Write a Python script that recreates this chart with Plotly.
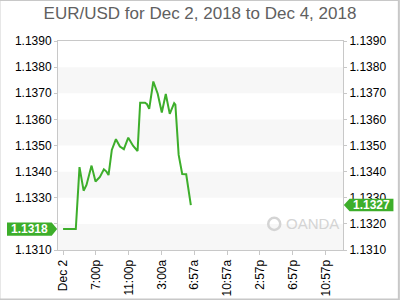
import plotly.graph_objects as go

# ---- data ----
times = [
    "2018-12-02 15:00", "2018-12-02 16:33", "2018-12-02 17:00", "2018-12-02 17:30",
    "2018-12-02 17:51", "2018-12-02 18:28", "2018-12-02 18:57", "2018-12-02 19:29",
    "2018-12-02 19:58", "2018-12-02 20:17", "2018-12-02 20:32", "2018-12-02 20:56",
    "2018-12-02 21:26", "2018-12-02 21:55", "2018-12-02 22:24", "2018-12-02 22:56",
    "2018-12-02 23:32", "2018-12-03 00:04", "2018-12-03 00:23", "2018-12-03 00:58",
    "2018-12-03 01:13", "2018-12-03 01:29", "2018-12-03 01:59", "2018-12-03 02:31",
    "2018-12-03 03:01", "2018-12-03 03:30", "2018-12-03 03:59", "2018-12-03 04:31",
    "2018-12-03 04:40", "2018-12-03 05:04", "2018-12-03 05:30", "2018-12-03 05:59",
    "2018-12-03 06:33",
]
rates = [
    1.1318, 1.1318, 1.13417, 1.13327,
    1.13349, 1.13423, 1.13362, 1.1338,
    1.13409, 1.1340, 1.13387, 1.13483,
    1.13524, 1.13496, 1.13486, 1.1353,
    1.13498, 1.13479, 1.13664, 1.13664,
    1.13658, 1.1364, 1.13745, 1.13698,
    1.13626, 1.13697, 1.13621, 1.13662,
    1.13656, 1.13464, 1.13391, 1.1339,
    1.13272,
]
tick_times = [
    "2018-12-02 15:00", "2018-12-02 19:00", "2018-12-02 23:00", "2018-12-03 03:00",
    "2018-12-03 06:57", "2018-12-03 10:57", "2018-12-03 14:57", "2018-12-03 18:57",
    "2018-12-03 22:57",
]
tick_labels = ["Dec 2", "7:00p", "11:00p", "3:00a", "6:57a", "10:57a", "2:57p", "6:57p", "10:57p"]
y_ticks = [1.131, 1.132, 1.133, 1.134, 1.135, 1.136, 1.137, 1.138, 1.139]
title_text = "EUR/USD for Dec 2, 2018 to Dec 4, 2018"

GREEN = "#3dae2b"
AXC = "#c8c8c8"
FONT = "Liberation Sans, Arial, sans-serif"

fig = go.Figure()
fig.add_trace(go.Scatter(x=times, y=rates, mode="lines",
                         line=dict(color=GREEN, width=2), hoverinfo="skip",
                         showlegend=False))
fig.add_trace(go.Scatter(x=times, y=rates, mode="lines", yaxis="y2",
                         line=dict(color="rgba(0,0,0,0)", width=0), hoverinfo="skip",
                         showlegend=False))

first, last = rates[0], rates[-1]
yr = [1.131, 1.139]

# left tick labels: hide the one covered by the current-open label box
left_text = [("" if abs(v - first) < 0.0004 else f"{v:.4f}") for v in y_ticks]
right_text = [f"{v:.4f}" for v in y_ticks]

shapes = []
# alternating bands
for lo in y_ticks[0:-1:2]:
    shapes.append(dict(type="rect", xref="paper", yref="y", x0=0, x1=1,
                       y0=lo, y1=lo + 0.001, fillcolor="#f7f7f7",
                       line=dict(width=0), layer="below"))

# price label boxes
def pent(v, x0, x1, tip, half=0.00025):
    return (f"M {x0},{v-half} L {x1},{v-half} L {tip},{v} "
            f"L {x1},{v+half} L {x0},{v+half} Z")

shapes.append(dict(type="path", xref="paper", yref="y",
                   path=pent(first, -0.179, -0.022, -0.003),
                   fillcolor=GREEN, line=dict(width=0), layer="above"))
shapes.append(dict(type="path", xref="paper", yref="y",
                   path=pent(last, 1.177, 1.023, 1.003, 0.00024),
                   fillcolor=GREEN, line=dict(width=0), layer="above"))
# outer border
shapes.append(dict(type="rect", xref="paper", yref="paper",
                   x0=-58.5 / 284.7, x1=340.5 / 284.7,
                   y0=-49.5 / 209, y1=1 + 41 / 209,
                   line=dict(color=AXC, width=2), fillcolor="rgba(0,0,0,0)"))
# watermark circle
shapes.append(dict(type="circle", xref="paper", yref="y",
                   x0=(268 - 58) / 284.7, x1=(280 - 58) / 284.7,
                   y0=1.13177, y1=1.13223,
                   line=dict(color="#d4d4d4", width=2.5), fillcolor="rgba(0,0,0,0)"))

annotations = [
    dict(text=f"<b>{first:.4f}</b>", xref="paper", yref="y", x=-0.1, y=first,
         showarrow=False, font=dict(family=FONT, size=12, color="white"),
         xanchor="center", yanchor="middle"),
    dict(text=f"<b>{last:.4f}</b>", xref="paper", yref="y", x=1.1, y=last,
         showarrow=False, font=dict(family=FONT, size=12, color="white"),
         xanchor="center", yanchor="middle"),
    dict(text="OANDA", xref="paper", yref="y", x=(284 - 58) / 284.7, y=1.1320,
         showarrow=False, font=dict(family=FONT, size=15, color="#d4d4d4"),
         xanchor="left", yanchor="middle"),
]

fig.update_layout(
    width=400, height=300,
    margin=dict(l=58, r=57, t=41, b=50, pad=0),
    paper_bgcolor="white", plot_bgcolor="white",
    title=dict(text=title_text, x=0.5, xanchor="center", y=1 - 13 / 300,
               yanchor="middle", yref="container",
               font=dict(family=FONT, size=17, color="#606060")),
    font=dict(family=FONT, size=12, color="black"),
    xaxis=dict(type="date", automargin=False,
               range=["2018-12-02 14:23", "2018-12-04 01:04"],
               tickmode="array", tickvals=tick_times, ticktext=tick_labels,
               tickangle=-90, ticks="outside", ticklen=4, tickcolor=AXC,
               showline=True, linecolor=AXC, linewidth=1, mirror=True,
               showgrid=False, zeroline=False,
               tickfont=dict(family=FONT, size=12, color="black")),
    yaxis=dict(range=yr, tickmode="array", tickvals=y_ticks, automargin=False,
               ticktext=left_text,
               ticks="outside", ticklen=3, tickcolor=AXC,
               showline=True, linecolor=AXC, linewidth=1, mirror=True,
               showgrid=False, zeroline=False,
               tickfont=dict(family=FONT, size=12, color="black")),
    yaxis2=dict(range=yr, overlaying="y", side="right", tickmode="array",
                automargin=False,
                tickvals=y_ticks, ticktext=right_text,
                ticks="outside", ticklen=3, tickcolor=AXC,
                showline=False, showgrid=False, zeroline=False,
                tickfont=dict(family=FONT, size=12, color="black")),
    shapes=shapes, annotations=annotations, showlegend=False,
)

fig.write_html("out.html")
